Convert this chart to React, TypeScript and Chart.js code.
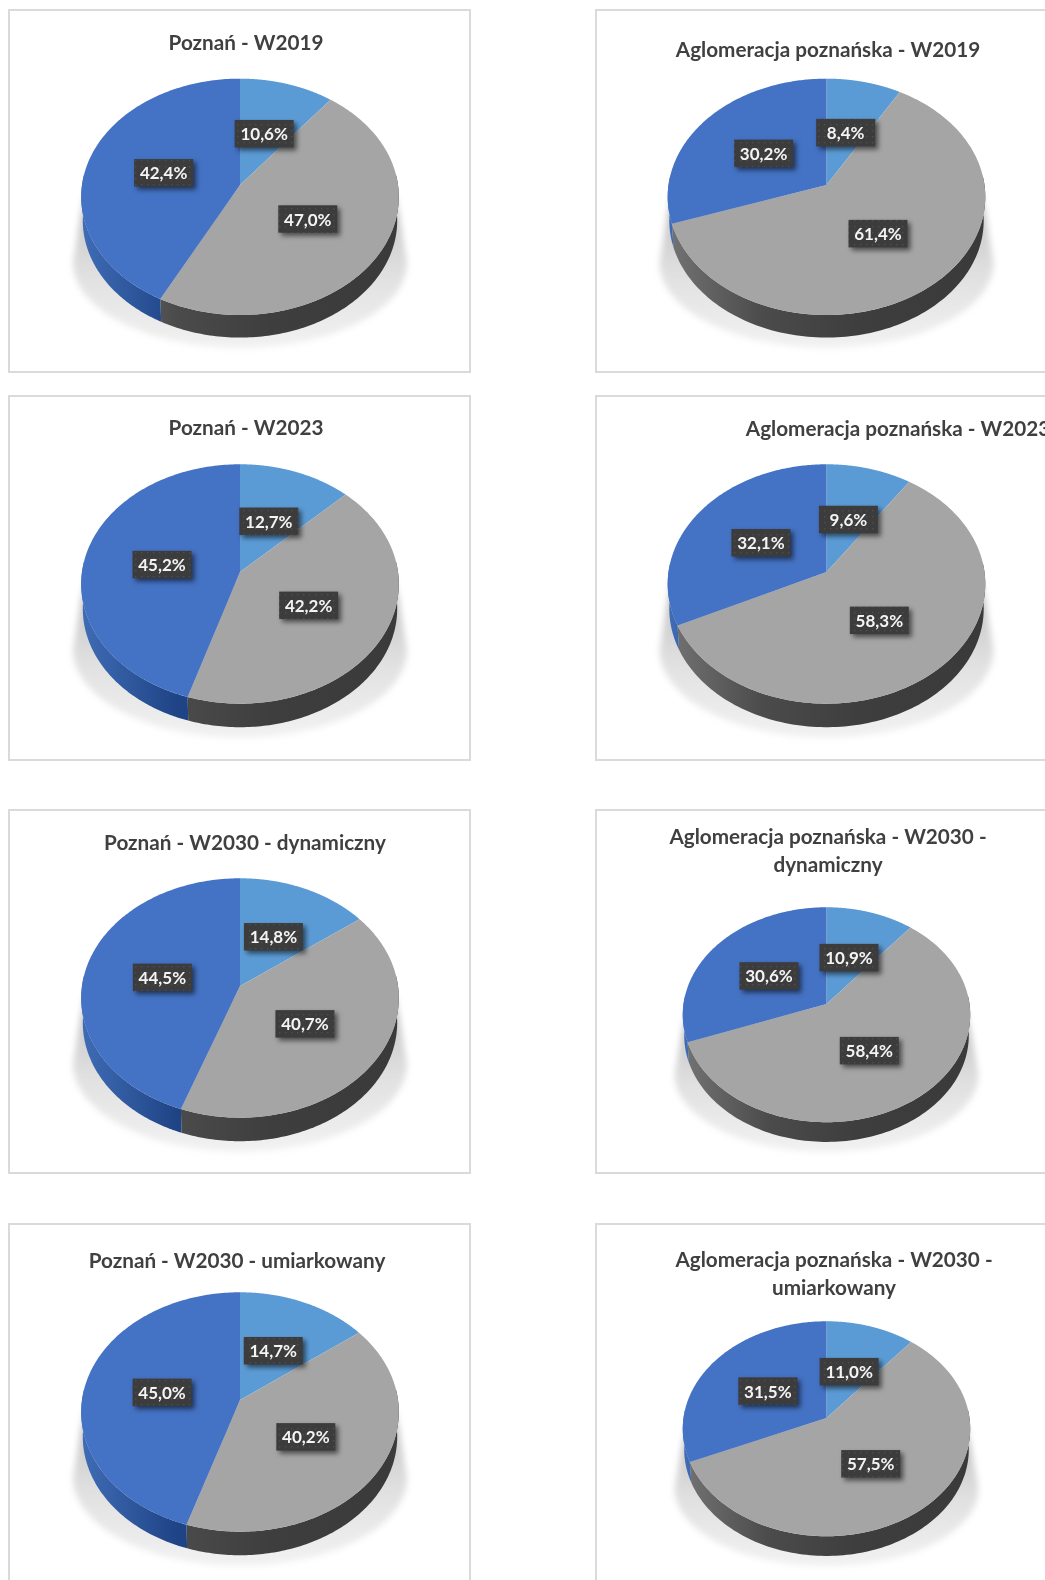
import React, { useEffect, useRef } from "react";
import { Chart, registerables } from "chart.js";

Chart.register(...registerables);

// Shares in percent, in clockwise order from twelve o'clock.
const poznanW2019 = [10.6, 47.0, 42.4];
const poznanW2023 = [12.7, 42.2, 45.2];
const poznanW2030Dynamiczny = [14.8, 40.7, 44.5];
const poznanW2030Umiarkowany = [14.7, 40.2, 45.0];
const aglomeracjaW2019 = [8.4, 61.4, 30.2];
const aglomeracjaW2023 = [9.6, 58.3, 32.1];
const aglomeracjaW2030Dynamiczny = [10.9, 58.4, 30.6];
const aglomeracjaW2030Umiarkowany = [11.0, 57.5, 31.5];

const sliceNames = ["Grupa 1", "Grupa 2", "Grupa 3"];

const titlePoznan2019 = ["Poznań - W2019"];
const titlePoznan2023 = ["Poznań - W2023"];
const titlePoznanDyn = ["Poznań - W2030 - dynamiczny"];
const titlePoznanUm = ["Poznań - W2030 - umiarkowany"];
const titleAglo2019 = ["Aglomeracja poznańska - W2019"];
const titleAglo2023 = ["Aglomeracja poznańska - W2023"];
const titleAgloDyn = ["Aglomeracja poznańska - W2030 -", "dynamiczny"];
const titleAgloUm = ["Aglomeracja poznańska - W2030 -", "umiarkowany"];

const FACE = ["#5b9bd5", "#a5a5a5", "#4472c4"];
const WALL = [
  ["#4a86bd", "#3a74a8", "#3a74a8", "#3a74a8"],
  ["#737373", "#4b4b4b", "#3e3e3e", "#3a3a3a"],
  ["#3f6cb5", "#1f4486", "#1d3f80", "#1d3f80"],
];

type Layout = {
  title: string[];
  values: number[];
  left: number;
  top: number;
  width: number;
  height: number;
  titleX: number;
  titleY: number;
  cx: number;
  cy: number;
  rx: number;
  ry: number;
  depth: number;
};

const TOP_ROW = { rx: 158, ry: 117, depth: 24 };
const LARGE = { rx: 158, ry: 118.5, depth: 25 };
const SMALL = { rx: 143, ry: 106.4, depth: 21 };
const TILT = 0.1;

const panels: Layout[] = [
  { title: titlePoznan2019, values: poznanW2019, left: 8, top: 9, width: 463, height: 364, titleX: 246, titleY: 43, cx: 240, cy: 185, ...TOP_ROW },
  { title: titleAglo2019, values: aglomeracjaW2019, left: 595, top: 9, width: 463, height: 364, titleX: 828, titleY: 50, cx: 826.5, cy: 185, ...TOP_ROW },
  { title: titlePoznan2023, values: poznanW2023, left: 8, top: 395, width: 463, height: 366, titleX: 246, titleY: 428, cx: 240, cy: 572, ...LARGE },
  { title: titleAglo2023, values: aglomeracjaW2023, left: 595, top: 395, width: 463, height: 366, titleX: 898, titleY: 429, cx: 826.5, cy: 572, ...LARGE },
  { title: titlePoznanDyn, values: poznanW2030Dynamiczny, left: 8, top: 809, width: 463, height: 365, titleX: 245, titleY: 843, cx: 240, cy: 986, ...LARGE },
  { title: titleAgloDyn, values: aglomeracjaW2030Dynamiczny, left: 595, top: 809, width: 463, height: 365, titleX: 828, titleY: 837, cx: 826.5, cy: 1004, ...SMALL },
  { title: titlePoznanUm, values: poznanW2030Umiarkowany, left: 8, top: 1223, width: 463, height: 380, titleX: 237, titleY: 1261, cx: 240, cy: 1400, ...LARGE },
  { title: titleAgloUm, values: aglomeracjaW2030Umiarkowany, left: 595, top: 1223, width: 463, height: 380, titleX: 834, titleY: 1260, cx: 826.5, cy: 1418, ...SMALL },
];

// Maps an angle (radians clockwise from the top) and a radial fraction onto the tilted disc.
function project(p: any, theta: number, shift = 0, scale = 1) {
  const u = scale * Math.sin(theta);
  const v = scale * Math.cos(theta);
  const w = 1 + TILT * v;
  return {
    x: p.cx + (p.rx * u) / w,
    y: p.cy + shift - (p.ry * v) / w,
  };
}

function dotPattern(ctx: CanvasRenderingContext2D) {
  const tile = document.createElement("canvas");
  tile.width = 6;
  tile.height = 6;
  const t = tile.getContext("2d")!;
  t.fillStyle = "#3c3c3c";
  t.fillRect(0, 0, 6, 6);
  t.fillStyle = "#4e4e4e";
  t.fillRect(1, 1, 1.4, 1.4);
  return ctx.createPattern(tile, "repeat")!;
}

// Paints the pie's arcs as a tilted disc with a side wall and a soft ground shadow,
// then puts the value boxes and the heading on top.
const tiltedPie = {
  id: "tiltedPie",
  beforeDatasetsDraw(chart: any, _args: any, opts: any) {
    const ctx: CanvasRenderingContext2D = chart.ctx;
    const p = opts.geometry;
    const arcs = chart.getDatasetMeta(0).data;
    const offset = Math.PI / 2;
    const left = p.cx - p.rx;
    const span = 2 * p.rx;
    const s = p.rx / LARGE.rx;

    // Ground shadow
    ctx.save();
    ctx.filter = "blur(3px)";
    const sTop = p.cy + 10 * s;
    const sMidY = p.cy + 78 * s;
    const sBottom = project(p, Math.PI, p.depth).y + 9;
    const g = ctx.createLinearGradient(0, sTop, 0, sBottom);
    g.addColorStop(0, "rgba(190,190,190,0.4)");
    g.addColorStop(0.12, "rgba(195,195,195,0.95)");
    g.addColorStop(0.5, "rgba(222,222,222,0.95)");
    g.addColorStop(1, "rgba(238,238,238,0.8)");
    ctx.fillStyle = g;
    ctx.beginPath();
    ctx.moveTo(p.cx - p.rx + 2, sTop);
    ctx.lineTo(p.cx + p.rx - 2, sTop);
    ctx.lineTo(p.cx + p.rx + 9, sMidY);
    ctx.ellipse(p.cx, sMidY, p.rx + 9, sBottom - sMidY, 0, 0, Math.PI);
    ctx.closePath();
    ctx.fill();
    ctx.restore();

    // Side wall, only where it faces the viewer
    const wallFrom = (85 * Math.PI) / 180;
    const wallTo = (275 * Math.PI) / 180;
    arcs.forEach((arc: any, i: number) => {
      const a = Math.max(arc.startAngle + offset, wallFrom);
      const b = Math.min(arc.endAngle + offset, wallTo);
      if (b <= a) return;
      const grad = ctx.createLinearGradient(left, 0, left + span, 0);
      const stops = WALL[i];
      grad.addColorStop(0, stops[0]);
      grad.addColorStop(0.3, stops[1]);
      grad.addColorStop(0.6, stops[2]);
      grad.addColorStop(1, stops[3]);
      ctx.fillStyle = grad;
      ctx.beginPath();
      const steps = 120;
      for (let k = 0; k <= steps; k++) {
        const pt = project(p, a + ((b - a) * k) / steps);
        if (k === 0) ctx.moveTo(pt.x, pt.y);
        else ctx.lineTo(pt.x, pt.y);
      }
      for (let k = steps; k >= 0; k--) {
        const pt = project(p, a + ((b - a) * k) / steps, p.depth, 0.99);
        ctx.lineTo(pt.x, pt.y);
      }
      ctx.closePath();
      ctx.fill();
    });

    // Top face
    arcs.forEach((arc: any, i: number) => {
      const a = arc.startAngle + offset;
      const b = arc.endAngle + offset;
      ctx.fillStyle = FACE[i];
      ctx.beginPath();
      ctx.moveTo(p.cx, p.cy);
      const steps = 160;
      for (let k = 0; k <= steps; k++) {
        const pt = project(p, a + ((b - a) * k) / steps);
        ctx.lineTo(pt.x, pt.y);
      }
      ctx.closePath();
      ctx.fill();
    });
    return false;
  },
  afterDraw(chart: any, _args: any, opts: any) {
    const ctx: CanvasRenderingContext2D = chart.ctx;
    const p = opts.geometry;
    const values: number[] = chart.data.datasets[0].data;
    const pattern = dotPattern(ctx);
    const arcs = chart.getDatasetMeta(0).data;

    ctx.save();
    ctx.font = "bold 17px Lato";
    ctx.textAlign = "center";
    ctx.textBaseline = "middle";
    arcs.forEach((arc: any, i: number) => {
      const mid = (arc.startAngle + arc.endAngle) / 2 + Math.PI / 2;
      const at = project(p, mid, 1.5, 0.5);
      const x = at.x - 0.5;
      const label = values[i].toFixed(1).replace(".", ",") + "%";
      const w = 59;
      const h = 27.5;
      ctx.save();
      ctx.shadowColor = "rgba(0,0,0,0.55)";
      ctx.shadowBlur = 5;
      ctx.shadowOffsetX = 3;
      ctx.shadowOffsetY = 3;
      ctx.fillStyle = pattern;
      ctx.fillRect(x - w / 2, at.y - h / 2, w, h);
      ctx.restore();
      ctx.fillStyle = "#f4f4f4";
      ctx.fillText(label, x, at.y + 1);
    });

    // Heading
    ctx.fillStyle = "#404040";
    ctx.font = "bold 20.7px Lato";
    p.title.forEach((line: string, n: number) => {
      ctx.fillText(line, p.titleX, p.titleY + n * 28);
    });
    ctx.restore();
  },
};

function PiePanel({ panel }: { panel: Layout }) {
  const ref = useRef<HTMLCanvasElement>(null);
  useEffect(() => {
    const { left, top } = panel;
    const chart = new Chart(ref.current!, {
      type: "pie",
      data: {
        labels: sliceNames,
        datasets: [{ data: panel.values, backgroundColor: FACE, borderWidth: 0 }],
      },
      options: {
        animation: false,
        responsive: false,
        plugins: {
          legend: { display: false },
          tooltip: { enabled: false },
          title: { display: false },
          tiltedPie: {
            geometry: {
              ...panel,
              cx: panel.cx - left,
              cy: panel.cy - top,
              titleX: panel.titleX - left,
              titleY: panel.titleY - top,
            },
          },
        },
      } as any,
      plugins: [tiltedPie as any],
    });
    return () => chart.destroy();
  }, [panel]);
  return (
    <div
      style={{
        position: "absolute",
        left: panel.left,
        top: panel.top,
        width: panel.width,
        height: panel.height,
        boxSizing: "border-box",
        border: "2px solid #dadada",
      }}
    >
      <canvas
        ref={ref}
        width={panel.width}
        height={panel.height}
        style={{ position: "absolute", left: -2, top: -2 }}
      />
    </div>
  );
}

export default function App() {
  return (
    <div
      style={{
        position: "absolute",
        left: 0,
        top: 0,
        width: 1045,
        height: 1580,
        overflow: "hidden",
        background: "#ffffff",
      }}
    >
      {panels.map((panel) => (
        <PiePanel key={panel.title.join(" ")} panel={panel} />
      ))}
    </div>
  );
}
